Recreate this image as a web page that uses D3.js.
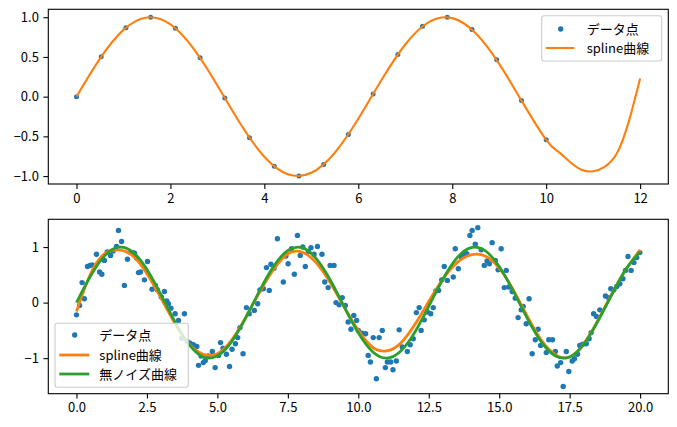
<!DOCTYPE html>
<html><head><meta charset="utf-8">
<script src="https://cdn.jsdelivr.net/npm/d3@7"></script>
<style>
body{margin:0;background:#fff;}
svg text{font-family:"Noto Sans CJK JP","DejaVu Sans",sans-serif;}
</style></head>
<body><svg id="c" width="677" height="427"></svg>
<script>
// ---- top panel data ----
const topPtX = [0, 0.526, 1.053, 1.579, 2.105, 2.632, 3.158, 3.684, 4.211, 4.737, 5.263, 5.789, 6.316, 6.842, 7.368, 7.895, 8.421, 8.947, 9.474, 10];
const topPtY = [0, 0.502, 0.868, 1.000, 0.861, 0.489, -0.017, -0.519, -0.878, -1.000, -0.853, -0.477, 0.033, 0.531, 0.886, 0.999, 0.845, 0.464, -0.050, -0.544];
const topSplX = [0,0.5,1,1.5,2,2.5,3,3.5,4,4.5,5,5.5,6,6.5,7,7.5,8,8.5,9,9.5,10,10.25,10.5,10.75,11,11.25,11.5,11.75,12];
const topSplY = [0,0.479,0.841,0.997,0.909,0.598,0.141,-0.351,-0.757,-0.978,-0.959,-0.706,-0.279,0.215,0.657,0.938,0.989,0.798,0.412,-0.075,-0.544,-0.69,-0.82,-0.92,-0.94,-0.88,-0.72,-0.33,0.23];
const topXTicks = [0,2,4,6,8,10,12];
const topYTicks = [-1.0,-0.5,0.0,0.5,1.0];

// ---- bottom panel data ----
const noisyX = [0.00,0.11,0.20,0.28,0.39,0.48,0.56,0.71,0.82,0.90,0.99,1.09,1.21,1.30,1.42,1.49,1.60,1.70,1.81,1.93,2.00,2.06,2.14,2.20,2.27,2.41,2.52,2.68,2.80,2.87,3.01,3.12,3.20,3.26,3.35,3.50,3.62,3.74,3.83,3.93,4.03,4.15,4.27,4.33,4.42,4.50,4.57,4.68,4.82,4.92,5.04,5.11,5.20,5.32,5.43,5.52,5.64,5.72,5.80,5.91,6.03,6.13,6.31,6.43,6.51,6.63,6.74,6.84,6.90,7.01,7.13,7.34,7.43,7.51,7.63,7.73,7.84,7.94,8.03,8.12,8.23,8.32,8.43,8.55,8.71,8.81,8.93,9.00,9.14,9.21,9.32,9.43,9.54,9.64,9.74,9.84,9.94,10.00,10.13,10.26,10.35,10.43,10.53,10.64,10.74,10.85,10.96,11.03,11.15,11.23,11.35,11.45,11.56,11.74,11.84,11.95,12.06,12.16,12.23,12.34,12.45,12.57,12.66,12.75,12.85,12.96,13.05,13.16,13.37,13.44,13.55,13.65,13.75,13.85,13.96,14.04,14.15,14.24,14.36,14.47,14.57,14.65,14.75,14.86,14.96,15.07,15.18,15.25,15.34,15.46,15.57,15.67,15.78,15.85,15.96,16.06,16.17,16.28,16.38,16.47,16.67,16.76,16.89,16.99,17.06,17.18,17.27,17.38,17.47,17.59,17.67,17.78,17.86,17.97,18.09,18.19,18.26,18.35,18.45,18.57,18.77,18.87,18.96,19.07,19.17,19.28,19.39,19.48,19.57,19.68,19.78,19.88,19.99];
const noisyY = [-0.22,-0.05,0.36,0.07,0.65,0.67,0.68,0.87,0.55,0.51,0.76,0.91,0.85,0.93,1.01,1.30,1.10,0.31,0.78,0.90,0.90,0.89,0.80,0.54,0.55,0.41,0.74,0.24,0.31,0.23,0.10,0.20,0.03,-0.02,-0.10,-0.20,-0.32,-0.64,-0.20,-0.70,-0.73,-0.76,-0.79,-1.13,-0.96,-1.08,-1.04,-0.96,-0.88,-1.17,-0.95,-0.72,-0.82,-0.93,-1.15,-0.84,-0.74,-0.63,-0.45,-0.92,-0.09,-0.20,-0.14,-0.02,0.23,0.25,0.63,0.22,0.69,0.62,1.15,0.37,0.84,0.70,0.97,0.51,1.21,0.85,1.00,0.65,0.92,0.99,0.87,1.01,0.87,0.37,0.27,0.67,0.67,0.00,-0.04,0.09,-0.05,-0.35,-0.48,-0.23,-0.32,-0.50,-0.55,-0.56,-0.95,-1.07,-0.63,-1.37,-0.63,-0.50,-1.17,-1.07,-1.07,-1.21,-1.05,-0.49,-0.80,-0.88,-0.76,-0.65,-0.18,-0.09,-0.50,-0.31,-0.17,-0.20,-0.09,0.21,0.22,0.41,0.65,0.40,0.46,0.97,0.61,0.82,0.88,0.88,1.21,1.30,1.05,1.35,0.95,0.67,0.75,0.70,1.08,0.76,0.59,0.97,0.27,0.58,0.28,0.20,0.08,-0.27,-0.13,-0.07,-0.38,0.07,-0.92,-0.67,-0.48,-0.77,-0.90,-0.67,-0.67,-0.88,-1.14,-1.08,-1.51,-0.88,-1.24,-1.05,-1.01,-0.93,-0.77,-0.75,-0.74,-0.65,-0.54,-0.20,-0.25,-0.13,0.12,0.09,0.25,0.23,0.29,0.34,0.43,0.58,0.83,0.58,0.72,0.81,0.90];
const curveX = [0,0.5,1,1.5,2,2.5,3,3.5,4,4.5,5,5.5,6,6.5,7,7.5,8,8.5,9,9.5,10,10.5,11,11.5,12,12.5,13,13.5,14,14.5,15,15.5,16,16.5,17,17.5,18,18.5,19,19.5,20];
const splineY = [-0.16,0.52,0.88,0.95,0.84,0.52,0.08,-0.38,-0.75,-0.93,-0.92,-0.68,-0.27,0.19,0.60,0.88,0.91,0.72,0.36,-0.08,-0.50,-0.80,-0.87,-0.73,-0.40,0.02,0.42,0.72,0.86,0.84,0.62,0.23,-0.25,-0.68,-0.94,-0.98,-0.74,-0.32,0.16,0.60,0.95];
const cleanY = [0,0.479,0.841,0.997,0.909,0.598,0.141,-0.351,-0.757,-0.978,-0.959,-0.706,-0.279,0.215,0.657,0.938,0.989,0.798,0.412,-0.075,-0.544,-0.880,-1.000,-0.875,-0.537,-0.066,0.420,0.804,0.991,0.935,0.650,0.206,-0.288,-0.712,-0.961,-0.978,-0.751,-0.338,0.150,0.603,0.913];
const botXTicks = [0,2.5,5,7.5,10,12.5,15,17.5,20];
const botYTicks = [-1,0,1];

const labels = {pts:"データ点", spl:"spline曲線", clean:"無ノイズ曲線"};
const C = {blue:"#1f77b4", orange:"#ff7f0e", green:"#2ca02c"};

const svg = d3.select("#c");
const L = 48.3, R = 668.3;

function panel(top, bottom, xd, yd, xt, yt, xfmt, yfmt){
  const x = d3.scaleLinear().domain(xd).range([L,R]);
  const y = d3.scaleLinear().domain(yd).range([bottom,top]);
  const g = svg.append("g");
  const ax = g.append("g").attr("transform",`translate(0,${bottom})`)
    .call(d3.axisBottom(x).tickValues(xt).tickFormat(xfmt).tickSize(4.9).tickPadding(4.5));
  const ay = g.append("g").attr("transform",`translate(${L},0)`)
    .call(d3.axisLeft(y).tickValues(yt).tickFormat(yfmt).tickSize(4.9).tickPadding(4.5));
  [ax,ay].forEach(a=>{
    a.select(".domain").remove();
    a.selectAll("line").attr("stroke","#000").attr("stroke-width",1.1);
    a.selectAll("text").attr("font-size",13).attr("fill","#000")
      .attr("font-family",'"Noto Sans CJK JP",sans-serif');
  });
  g.append("rect").attr("class","frame").attr("x",L).attr("y",top).attr("width",R-L).attr("height",bottom-top)
    .attr("fill","none").attr("stroke","#000").attr("stroke-width",1.1);
  const clip = "clip"+Math.round(top);
  svg.append("clipPath").attr("id",clip).append("rect").attr("x",L).attr("y",top).attr("width",R-L).attr("height",bottom-top);
  const plot = svg.append("g").attr("clip-path",`url(#${clip})`);
  return {x,y,g,plot};
}

// top panel
const P1 = panel(9.3, 184, [-0.6,12.6], [-1.1,1.1], topXTicks, topYTicks, d3.format("d"), d3.format(".1f"));
P1.plot.selectAll("circle").data(topPtX).join("circle")
  .attr("cx",(d)=>P1.x(d)).attr("cy",(d,i)=>P1.y(topPtY[i])).attr("r",2.5).attr("fill",C.blue);
P1.plot.append("path").datum(topSplX.map((d,i)=>[d,topSplY[i]]))
  .attr("d",d3.line().x(d=>P1.x(d[0])).y(d=>P1.y(d[1])).curve(d3.curveNatural))
  .attr("fill","none").attr("stroke",C.orange).attr("stroke-width",2.1);

// bottom panel
const P2 = panel(219.3, 393.7, [-1,21], [-1.64,1.5], botXTicks, botYTicks, d3.format(".1f"), d3.format("d"));
P2.plot.selectAll("circle").data(noisyX).join("circle")
  .attr("cx",(d)=>P2.x(d)).attr("cy",(d,i)=>P2.y(noisyY[i])).attr("r",2.7).attr("fill",C.blue);
const ln = d3.line().x(d=>P2.x(d[0])).y(d=>P2.y(d[1])).curve(d3.curveNatural);
P2.plot.append("path").datum(curveX.map((d,i)=>[d,splineY[i]])).attr("d",ln)
  .attr("fill","none").attr("stroke",C.orange).attr("stroke-width",2.8);
P2.plot.append("path").datum(curveX.map((d,i)=>[d,cleanY[i]])).attr("d",ln)
  .attr("fill","none").attr("stroke",C.green).attr("stroke-width",2.8);

// legends
function legend(x0,y0,w,h,items,lw,mx,l1,l2,tx){
  const g = svg.append("g");
  g.append("rect").attr("x",x0).attr("y",y0).attr("width",w).attr("height",h).attr("rx",2.5)
    .attr("fill","#fff").attr("fill-opacity",0.8).attr("stroke","#cccccc").attr("stroke-width",1.1);
  items.forEach(it=>{
    if(it.type==="pt") g.append("circle").attr("cx",mx).attr("cy",it.cy).attr("r",2.7).attr("fill",it.color);
    else g.append("line").attr("x1",l1).attr("x2",l2).attr("y1",it.cy).attr("y2",it.cy).attr("stroke",it.color).attr("stroke-width",lw);
    g.append("text").attr("x",tx).attr("y",it.cy).attr("dy","0.36em").attr("font-size",13).attr("fill","#000").text(it.label);
  });
}
legend(541.7,15.7,120,45.3,[
  {type:"pt",cy:29,color:C.blue,label:labels.pts},
  {type:"ln",cy:48,color:C.orange,label:labels.spl}],2.1,560.7,546,574.3,586.7);
legend(55,323.3,133.3,64,[
  {type:"pt",cy:335,color:C.blue,label:labels.pts},
  {type:"ln",cy:355,color:C.orange,label:labels.spl},
  {type:"ln",cy:374,color:C.green,label:labels.clean}],2.8,74.7,59.3,89.3,99.3);
</script></body></html>
